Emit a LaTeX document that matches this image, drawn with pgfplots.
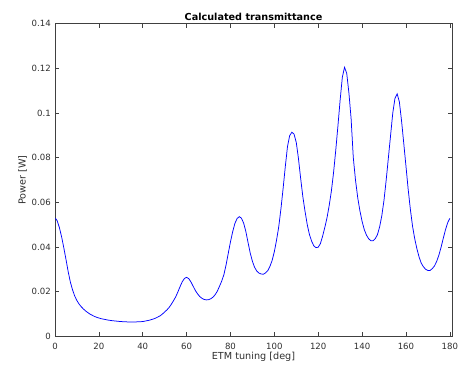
\documentclass[border=0pt]{standalone}
\usepackage{fontspec}
\setmainfont{DejaVu Sans}
\usepackage{pgfplots}
\pgfplotsset{compat=1.18}
\definecolor{axc}{rgb}{0.25,0.25,0.25}
\definecolor{txc}{rgb}{0.18,0.18,0.18}
\begin{document}
\begin{tikzpicture}
\begin{axis}[
  scale only axis,
  width=397bp, height=312.6bp,
  xmin=0, xmax=181, ymin=0, ymax=0.14,
  xtick={0,20,...,180},
  ytick={0,0.02,0.04,0.06,0.08,0.1,0.12,0.14},
  tick align=inside,
  major tick length=4bp,
  axis line style={axc, line width=0.6pt},
  every tick/.style={axc, line width=0.6pt},
  /pgf/number format/assume math mode=true,
  yticklabel style={/pgf/number format/fixed, /pgf/number format/precision=2},
  ticklabel style={font=\fontsize{8.6}{10}\selectfont, text=txc},
  xticklabel style={anchor=center, inner sep=0pt, yshift=-9.8bp},
  yticklabel style={anchor=east, inner sep=0pt, xshift=-4bp},
  scaled y ticks=false,
  xlabel={ETM tuning [deg]},
  ylabel={Power [W]},
  title={\bfseries Calculated transmittance},
  every axis title shift=0pt,
  label style={font=\fontsize{9.7}{11}\selectfont, text=txc},
  xlabel style={at={(axis description cs:0.5,-0.0646)}, anchor=center, inner sep=0pt},
  ylabel style={at={(axis description cs:-0.0819,0.5)}, anchor=center, inner sep=0pt},
  title style={at={(axis description cs:0.5,1.023)}, anchor=center, inner sep=0pt, font=\fontsize{9.7}{11}\selectfont, text=black},
]
\addplot[blue, line width=0.75pt] coordinates {
(0,0.0528) (0.5,0.0525) (1,0.0517) (2,0.0487) (3,0.0446) (4,0.0397) (5,0.0345)
(6,0.0290) (7,0.0243) (8,0.0208) (9,0.0180) (10,0.0160) (11,0.0144) (12,0.0132)
(13,0.0122) (14,0.0113) (15,0.0106) (16,0.0099) (17,0.0094) (18,0.0089) (19,0.0085)
(20,0.0082) (21,0.0079) (22,0.0077) (23,0.0075) (24,0.0073) (26,0.0070) (28,0.0068)
(30,0.0066) (32,0.0065) (34,0.0064) (36,0.0064) (38,0.0065) (40,0.0066) (41,0.0068)
(42,0.0070) (43,0.0072) (44,0.0075) (45,0.0078) (46,0.0082) (47,0.0087) (48,0.0092)
(49,0.0100) (50,0.0109) (51,0.0118) (52,0.0129) (53,0.0143) (54,0.0159) (55,0.0176)
(56,0.0198) (57,0.0222) (58,0.0244) (59,0.0259) (60,0.0264) (61,0.0258) (62,0.0243)
(63,0.0224) (64,0.0205) (65,0.0190) (66,0.0178) (67,0.0170) (68,0.0165) (69,0.0163)
(70,0.0164) (71,0.0168) (72,0.0175) (73,0.0186) (74,0.0202) (75,0.0224) (76,0.0247)
(77,0.0276) (78,0.0320) (79,0.0372) (80,0.0423) (81,0.0468) (82,0.0505) (83,0.0527)
(84,0.0536) (85,0.0529) (86,0.0507) (87,0.0470) (88,0.0421) (89,0.0373) (90,0.0336)
(91,0.0309) (92,0.0292) (93,0.0283) (94,0.0279) (95,0.0278) (96,0.0284) (97,0.0294)
(98,0.0313) (99,0.0340) (100,0.0379) (101,0.0430) (102,0.0490) (103,0.0570) (104,0.0662)
(105,0.0760) (106,0.0850) (107,0.0899) (108,0.0914) (109,0.0905) (110,0.0868) (111,0.0796)
(112,0.0707) (113,0.0625) (114,0.0559) (115,0.0500) (116,0.0456) (117,0.0426) (118,0.0405)
(119,0.0397) (120,0.0399) (121,0.0415) (122,0.0448) (123,0.0487) (124,0.0530) (125,0.0585)
(126,0.0650) (127,0.0733) (128,0.0833) (129,0.0943) (130,0.1058) (131,0.1160) (132,0.1205)
(133,0.1178) (134,0.1090) (135,0.0975) (136,0.0800) (137,0.0700) (138,0.0622) (139,0.0563)
(140,0.0515) (141,0.0478) (142,0.0453) (143,0.0437) (144,0.0428) (145,0.0428) (146,0.0437)
(147,0.0455) (148,0.0490) (149,0.0540) (150,0.0610) (151,0.0700) (152,0.0800) (153,0.0900)
(154,0.1000) (155,0.1066) (156,0.1086) (157,0.1050) (158,0.0965) (159,0.0865) (160,0.0763)
(161,0.0660) (162,0.0570) (163,0.0494) (164,0.0437) (165,0.0392) (166,0.0355) (167,0.0327)
(168,0.0311) (169,0.0300) (170,0.0295) (171,0.0295) (172,0.0303) (173,0.0315) (174,0.0335)
(175,0.0363) (176,0.0398) (177,0.0438) (178,0.0476) (179,0.0508) (180,0.0528)
};
\end{axis}
\pgfresetboundingbox
\useasboundingbox (-55bp,-28.7bp) rectangle (407bp,336.3bp);
\end{tikzpicture}
\end{document}
